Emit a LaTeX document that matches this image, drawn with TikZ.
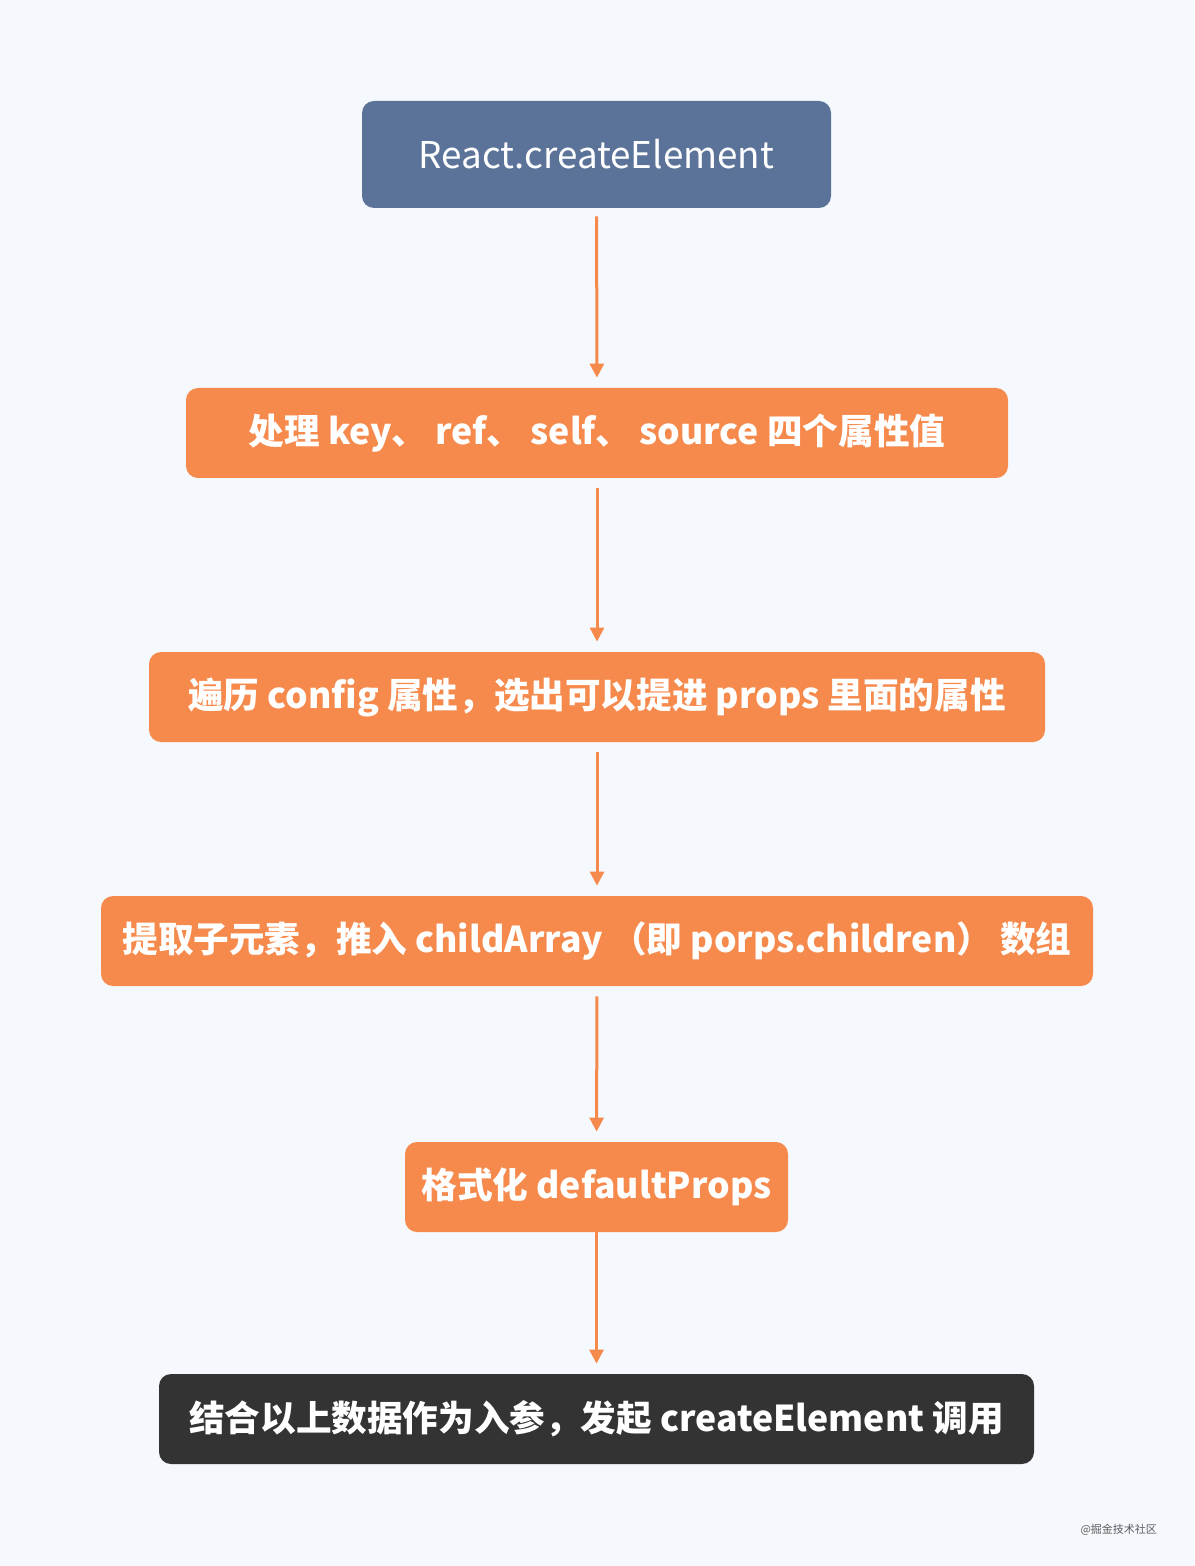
\documentclass[tikz,border=0pt]{standalone}
\usepackage{fontspec}
\setmainfont{Noto Sans CJK SC}
\usetikzlibrary{arrows.meta}

\definecolor{bgpaper}{HTML}{F5F8FC}
\definecolor{stepblue}{HTML}{5B7399}
\definecolor{steporange}{HTML}{F68A4C}
\definecolor{stepdark}{HTML}{333333}

\begin{document}
\begin{tikzpicture}[x=0.5pt, y=-0.5pt,
    stepbox/.style={rounded corners=6pt, text=white, font=\fontsize{17.8}{20}\selectfont\bfseries,
        inner sep=0pt, minimum height=45pt},
    flow/.style={draw=steporange, line width=1.5pt, -{Triangle[length=7pt, width=7pt]}}]

    % 1. Paper and bounding box
    \fill[bgpaper] (0,0) rectangle (1194,1566);
    \useasboundingbox (0,0) rectangle (1194,1566);

    % 2. Steps (centres and widths from the reference)
    \node[stepbox, fill=stepblue, minimum width=234.5pt, minimum height=53.5pt,
        font=\fontsize{18.4}{20}\selectfont] (create) at (596.5,154.5) {React.createElement};
    \node[stepbox, fill=steporange, minimum width=411pt] (keys) at (597,433) {处理 key、 ref、 self、 source 四个属性值};
    \node[stepbox, fill=steporange, minimum width=448pt] (config) at (597,697) {遍历 config 属性，选出可以提进 props 里面的属性};
    \node[stepbox, fill=steporange, minimum width=496pt] (child) at (597,941) {提取子元素，推入 childArray （即 porps.children） 数组};
    \node[stepbox, fill=steporange, minimum width=191.5pt] (defaults) at (596.5,1187) {格式化 defaultProps};
    \node[stepbox, fill=stepdark, minimum width=437.5pt] (call) at (596.5,1419) {结合以上数据作为入参，发起 createElement 调用};

    % 3. Arrows between the steps
    \draw[flow, shorten <=4pt, shorten >=5pt] (create) -- (keys);
    \draw[flow, shorten <=5pt, shorten >=5pt] (keys) -- (config);
    \draw[flow, shorten <=5pt, shorten >=5pt] (config) -- (child);
    \draw[flow, shorten <=5pt, shorten >=5pt] (child) -- (defaults);
    \draw[flow, shorten >=5pt] (defaults) -- (call);

    % 4. Watermark
    \node[text=stepdark!80, font=\fontsize{5.5}{6}\selectfont, anchor=east] (mark) at (1164,1530) {@掘金技术社区};

\end{tikzpicture}
\end{document}
